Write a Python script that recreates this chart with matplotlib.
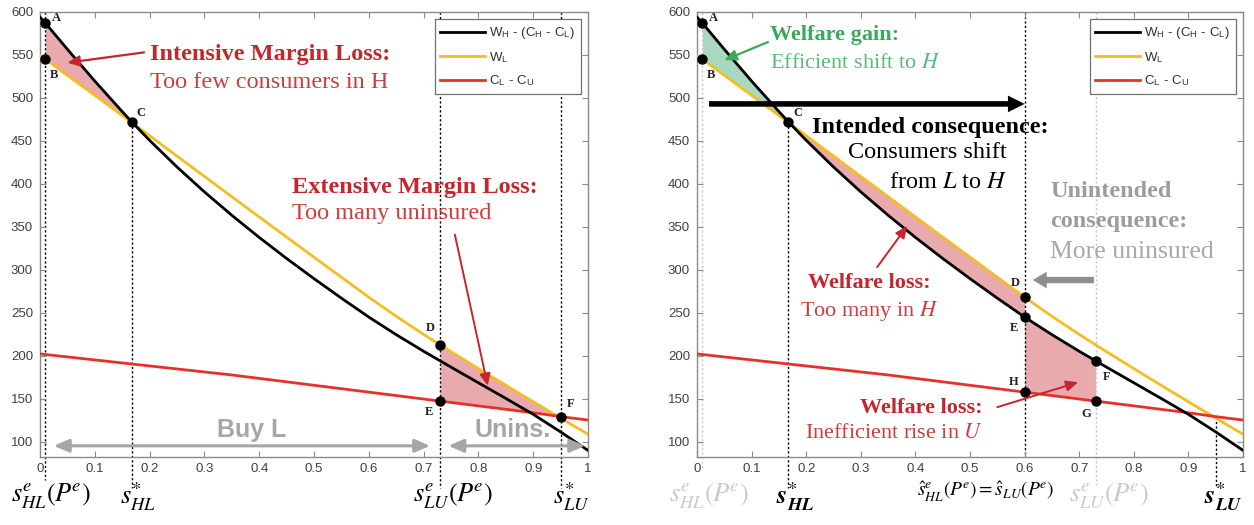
import matplotlib
matplotlib.use("Agg")
import matplotlib.pyplot as plt

# ---- data -------------------------------------------------------------
# share of consumers (x) and the three surplus curves evaluated at those shares
share = [0, 0.01, 0.05, 0.1, 0.15, 0.167, 0.2, 0.25, 0.3, 0.35, 0.4, 0.45,
         0.5, 0.55, 0.6, 0.65, 0.7, 0.73, 0.75, 0.8, 0.85, 0.9, 0.95, 1.0]
net_wh = [594, 587, 556.6, 519.6, 484.1, 472.4, 450.6, 419.6, 390.6, 363.4, 337.6, 313.1,
          289.6, 266.9, 244.9, 224.4, 205.1, 194, 186.6, 168.4, 150.2, 131.7, 111.2, 89.7]
w_low = [549.7, 545, 526.3, 503, 479.6, 471.6, 456, 432.3, 408.6, 385, 361.5, 338,
         314.6, 291.3, 268, 245.8, 224.7, 212.6, 204.6, 184.9, 165.5, 146.3, 127.3, 108.5]
cost_gap = [202, 201.3, 198.5, 195, 191.5, 190.3, 188, 184.5, 181, 177.5, 173.5, 169.5,
            165.5, 161.5, 157.5, 153.5, 149.5, 147, 145.5, 141.5, 137.5, 133.5, 129, 125]

legend_labels = [r"W$_\mathregular{H}$ - (C$_\mathregular{H}$ - C$_\mathregular{L}$)",
                 r"W$_\mathregular{L}$", r"C$_\mathregular{L}$ - C$_\mathregular{U}$"]

y_ticks = [100, 150, 200, 250, 300, 350, 400, 450, 500, 550, 600]
x_ticks = [0, 0.1, 0.2, 0.3, 0.4, 0.5, 0.6, 0.7, 0.8, 0.9, 1.0]
x_tick_labels = ["0", "0.1", "0.2", "0.3", "0.4", "0.5", "0.6", "0.7", "0.8", "0.9", "1"]

# key shares
s_hl_e = 0.01      # s^e_HL(P^e)
s_hl_star = 0.167  # s*_HL
s_lu_e = 0.73      # s^e_LU(P^e)
s_lu_star = 0.95   # s*_LU
s_hat = 0.6        # \hat s^e_HL(P^e) = \hat s_LU(P^e)

# ---- style ------------------------------------------------------------
plt.rcParams["font.family"] = ["Liberation Sans", "DejaVu Sans"]
plt.rcParams["mathtext.fontset"] = "stix"

BLACK = "#000000"
YELLOW = "#f4bd22"
RED = "#e4322b"
PINK = "#e9aaad"
MINT = "#a9d8c1"
SPINE = "#8a8a8a"
TXT_RED_B = "#c3262b"
TXT_RED = "#c8403d"
TXT_GREEN_B = "#3aa958"
TXT_GREEN = "#5abb77"
TXT_GRAY_B = "#9c9c9c"
TXT_GRAY = "#a8a8a8"
LIGHT_LABEL = "#c9c9c9"
SERIF = ["Liberation Serif", "DejaVu Serif"]
FS = 17.5


def at(x):
    return share.index(x)


def curve(vals, x):
    return vals[at(x)]


def between(lo, hi):
    return [lo - 1e-9 <= s <= hi + 1e-9 for s in share]


def setup_axes(ax):
    ax.set_xlim(0, 1)
    ax.set_ylim(82, 600)
    ax.set_xticks(x_ticks)
    ax.set_xticklabels(x_tick_labels)
    ax.set_yticks(y_ticks)
    ax.tick_params(direction="in", top=True, right=True, length=4, width=0.8,
                   color=SPINE, labelsize=9.5, labelcolor="#404040", pad=4)
    ax.tick_params(axis="y", pad=5)
    for sp in ax.spines.values():
        sp.set_color(SPINE)
        sp.set_linewidth(1.0)


def draw_curves(ax):
    h1, = ax.plot(share, net_wh, color=BLACK, lw=2.0, zorder=4)
    h2, = ax.plot(share, w_low, color=YELLOW, lw=2.0, zorder=3)
    h3, = ax.plot(share, cost_gap, color=RED, lw=2.0, zorder=3)
    leg = ax.legend([h1, h2, h3], legend_labels, loc="upper right", fontsize=9.5,
                    handlelength=3.4, handletextpad=0.25, labelspacing=0.65,
                    borderpad=0.45, borderaxespad=0.55, fancybox=False,
                    framealpha=1, edgecolor="#707070")
    leg.get_frame().set_linewidth(0.9)
    for t in leg.get_texts():
        t.set_color("#303030")
    leg.set_zorder(10)


def vline(ax, x, y0, y1, color=BLACK):
    ax.plot([x, x], [y0, y1], color=color, lw=1.0, ls=(0, (1.6, 1.6)),
            clip_on=False, zorder=1.5)


def dot(ax, x, y, label, dx, dy):
    ax.plot([x], [y], "o", color=BLACK, ms=6.5, zorder=6, clip_on=False)
    ax.annotate(label, (x, y), xytext=(dx, dy), textcoords="offset points",
                ha="center", va="center", fontsize=9, family=SERIF,
                fontweight="bold", color="#202020", zorder=7)


def arrow(ax, tail, head, color, lw=1.4, ms=13):
    ax.annotate("", xy=head, xytext=tail,
                arrowprops=dict(arrowstyle="-|>,head_length=0.55,head_width=0.25",
                                color=color, lw=lw, mutation_scale=ms,
                                shrinkA=0, shrinkB=0), zorder=8)


def bottom_label(ax, x, text, color=BLACK, size=19, y=-0.088):
    tr = matplotlib.transforms.blended_transform_factory(ax.transData, ax.transAxes)
    ax.text(x, y, text, transform=tr, ha="center", va="center", fontsize=size,
            color=color, clip_on=False)


fig = plt.figure(figsize=(12.54, 5.25), dpi=100)
axL = fig.add_axes([40 / 1254, 1 - 457 / 525, 548 / 1254, 445 / 525])
axR = fig.add_axes([697 / 1254, 1 - 457 / 525, 546 / 1254, 445 / 525])

# ====================== left panel: equilibrium losses ======================
ax = axL
setup_axes(ax)
ax.fill_between(share, w_low, net_wh, where=between(s_hl_e, s_hl_star),
                color=PINK, lw=0, zorder=1)
ax.fill_between(share, cost_gap, w_low, where=between(s_lu_e, s_lu_star),
                color=PINK, lw=0, zorder=1)
vline(ax, s_hl_e, 600, 55)
vline(ax, s_hl_star, curve(w_low, s_hl_star), 46)
vline(ax, s_lu_e, 600, 46)
vline(ax, s_lu_star, 600, 46)
draw_curves(ax)

dot(ax, s_hl_e, curve(net_wh, s_hl_e), "A", 8, 4)
dot(ax, s_hl_e, curve(w_low, s_hl_e), "B", 6, -11)
dot(ax, s_hl_star, curve(w_low, s_hl_star), "C", 7, 7)
dot(ax, s_lu_e, curve(w_low, s_lu_e), "D", -7, 12)
dot(ax, s_lu_e, curve(cost_gap, s_lu_e), "E", -8, -8)
dot(ax, s_lu_star, curve(cost_gap, s_lu_star), "F", 7, 9)

ax.text(0.2, 550, "Intensive Margin Loss:", family=SERIF, fontsize=FS,
        fontweight="bold", color=TXT_RED_B, va="center", zorder=8)
ax.text(0.2, 518, "Too few consumers in H", family=SERIF, fontsize=FS,
        color=TXT_RED, va="center", zorder=8)
arrow(ax, (0.19, 553), (0.05, 541), TXT_RED_B, lw=1.6)

ax.text(0.46, 396, "Extensive Margin Loss:", family=SERIF, fontsize=FS,
        fontweight="bold", color=TXT_RED_B, va="center", zorder=8)
ax.text(0.46, 365, "Too many uninsured", family=SERIF, fontsize=FS,
        color=TXT_RED, va="center", zorder=8)
arrow(ax, (0.757, 341), (0.817, 165), TXT_RED_B, lw=1.4)

ax.text(0.386, 113, "Buy L", fontsize=18, fontweight="bold", color="#a6a6a6",
        ha="center", va="center", zorder=8)
ax.text(0.862, 113, "Unins.", fontsize=18, fontweight="bold", color="#a6a6a6",
        ha="center", va="center", zorder=8)
for a, b in [(0.025, 0.712), (0.745, 0.995)]:
    ax.annotate("", xy=(b, 95), xytext=(a, 95),
                arrowprops=dict(arrowstyle="<|-|>,head_length=0.7,head_width=0.3",
                                color="#a6a6a6", lw=2.2, mutation_scale=13,
                                shrinkA=0, shrinkB=0), zorder=8)

bottom_label(ax, 0.02, r"$s^{e}_{HL}(P^{\!e})$")
bottom_label(ax, 0.179, r"$s^{*}_{HL}$")
bottom_label(ax, 0.754, r"$s^{e}_{LU}(P^{\!e})$")
bottom_label(ax, 0.969, r"$s^{*}_{LU}$")

# ====================== right panel: effect of the policy ======================
ax = axR
setup_axes(ax)
ax.fill_between(share, w_low, net_wh, where=between(s_hl_e, s_hl_star),
                color=MINT, lw=0, zorder=1)
ax.fill_between(share, net_wh, w_low, where=between(s_hl_star, s_hat),
                color=PINK, lw=0, zorder=1)
ax.fill_between(share, cost_gap, net_wh, where=between(s_hat, s_lu_e),
                color=PINK, lw=0, zorder=1)
vline(ax, s_hl_e, 600, 69, color=LIGHT_LABEL)
vline(ax, s_hl_star, curve(w_low, s_hl_star), 46)
vline(ax, s_hat, 600, 82)
vline(ax, s_lu_e, 600, 49, color=LIGHT_LABEL)
vline(ax, s_lu_star, curve(cost_gap, s_lu_star), 46)
draw_curves(ax)

dot(ax, s_hl_e, curve(net_wh, s_hl_e), "A", 8, 4)
dot(ax, s_hl_e, curve(w_low, s_hl_e), "B", 6, -11)
dot(ax, s_hl_star, curve(w_low, s_hl_star), "C", 7, 7)
dot(ax, s_hat, curve(w_low, s_hat), "D", -7, 10)
dot(ax, s_hat, curve(net_wh, s_hat), "E", -8, -8)
dot(ax, s_hat, curve(cost_gap, s_hat), "H", -8, 7)
dot(ax, s_lu_e, curve(net_wh, s_lu_e), "F", 8, -12)
dot(ax, s_lu_e, curve(cost_gap, s_lu_e), "G", -7, -9)

# policy arrow: consumers shift from L to H
ax.annotate("", xy=(s_hat, 493), xytext=(0.022, 493),
            arrowprops=dict(arrowstyle="simple,head_length=0.6,head_width=0.6,tail_width=0.2",
                            color=BLACK, mutation_scale=20, shrinkA=0, shrinkB=0, lw=0),
            zorder=9)
ax.annotate("", xy=(0.615, 288), xytext=(0.727, 288),
            arrowprops=dict(arrowstyle="simple,head_length=0.5,head_width=0.6,tail_width=0.23",
                            color="#8e8e8e", mutation_scale=20, shrinkA=0, shrinkB=0, lw=0),
            zorder=9)

ax.text(0.133, 573, "Welfare gain:", family=SERIF, fontsize=16,
        fontweight="bold", color=TXT_GREEN_B, va="center", zorder=8)
ax.text(0.133, 540, r"Efficient shift to $\mathit{H}$", family=SERIF, fontsize=16,
        color=TXT_GREEN, va="center", zorder=8)
arrow(ax, (0.13, 565), (0.05, 544), TXT_GREEN_B, lw=1.6)

ax.text(0.21, 466, "Intended consequence:", family=SERIF, fontsize=FS,
        fontweight="bold", color=BLACK, va="center", zorder=8)
ax.text(0.568, 436, "Consumers shift", family=SERIF, fontsize=FS,
        color=BLACK, va="center", ha="right", zorder=8)
ax.text(0.568, 401, r"from $\mathit{L}$ to $\mathit{H}$", family=SERIF, fontsize=FS,
        color=BLACK, va="center", ha="right", zorder=8)

ax.text(0.647, 391, "Unintended", family=SERIF, fontsize=FS,
        fontweight="bold", color=TXT_GRAY_B, va="center", zorder=8)
ax.text(0.647, 356, "consequence:", family=SERIF, fontsize=FS,
        fontweight="bold", color=TXT_GRAY_B, va="center", zorder=8)
ax.text(0.647, 321, "More uninsured", family=SERIF, fontsize=18.5,
        color=TXT_GRAY, va="center", zorder=8)

ax.text(0.316, 285, "Welfare loss:", family=SERIF, fontsize=16,
        fontweight="bold", color=TXT_RED_B, va="center", ha="center", zorder=8)
ax.text(0.316, 252, r"Too many in $\mathit{H}$", family=SERIF, fontsize=16,
        color=TXT_RED, va="center", ha="center", zorder=8)
arrow(ax, (0.33, 303), (0.385, 351), TXT_RED_B, lw=1.4)

ax.text(0.524, 139, "Welfare loss:", family=SERIF, fontsize=16,
        fontweight="bold", color=TXT_RED_B, va="center", ha="right", zorder=8)
ax.text(0.524, 109, r"Inefficient rise in $\mathit{U}$", family=SERIF, fontsize=16,
        color=TXT_RED, va="center", ha="right", zorder=8)
arrow(ax, (0.55, 140), (0.698, 169), TXT_RED_B, lw=1.4)

bottom_label(ax, 0.022, r"$s^{e}_{HL}(P^{\!e})$", color=LIGHT_LABEL)
bottom_label(ax, 0.18, r"$\mathbfit{s}^{*}_{\mathbfit{HL}}$")
bottom_label(ax, 0.529, r"$\hat{s}^{e}_{HL}(P^{\!e}) = \hat{s}_{LU}(P^{\!e})$", size=14, y=-0.078)
bottom_label(ax, 0.755, r"$s^{e}_{LU}(P^{\!e})$", color=LIGHT_LABEL)
bottom_label(ax, 0.963, r"$\mathbfit{s}^{*}_{\mathbfit{LU}}$")

fig.savefig("out.png", dpi=100)
